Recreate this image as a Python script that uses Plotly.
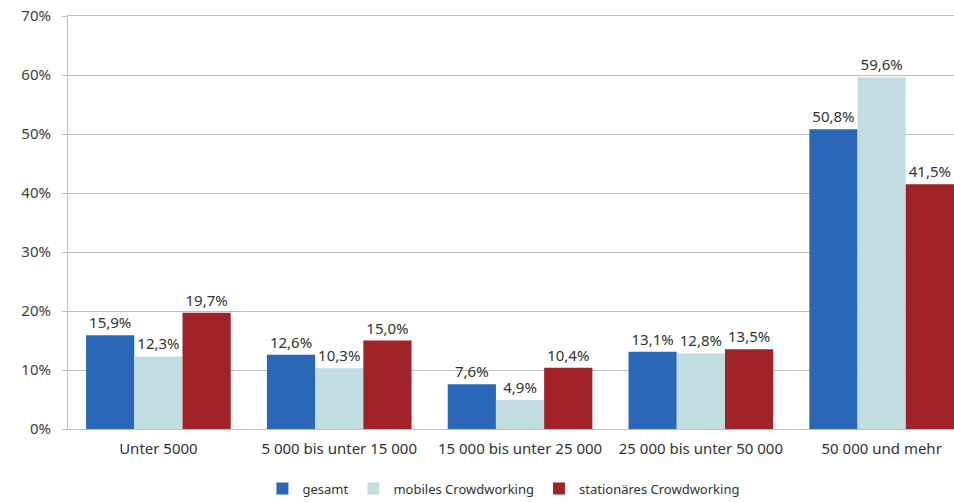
import plotly.graph_objects as go

categories = ["Unter 5000", "5 000 bis unter 15 000", "15 000 bis unter 25 000",
              "25 000 bis unter 50 000", "50 000 und mehr"]
gesamt = [15.9, 12.6, 7.6, 13.1, 50.8]
mobiles = [12.3, 10.3, 4.9, 12.8, 59.6]
stationaeres = [19.7, 15.0, 10.4, 13.5, 41.5]
series_names = ["gesamt", "mobiles Crowdworking", "stationäres Crowdworking"]
colors = ["#2A67B8", "#C3DEE2", "#A12328"]

def fmt(v):
    return f"{v:.1f}".replace(".", ",") + "%"

fig = go.Figure()
for name, vals, col in zip(series_names, [gesamt, mobiles, stationaeres], colors):
    fig.add_trace(go.Bar(
        x=categories, y=vals, name=name, marker_color=col, marker_line_width=0,
        text=[fmt(v) for v in vals], textposition="outside",
        textfont=dict(size=15, color="#333333"), cliponaxis=False,
    ))

fig.update_layout(
    width=954, height=502,
    margin=dict(l=68, r=0, t=16, b=73, autoexpand=False),
    paper_bgcolor="white", plot_bgcolor="white",
    barmode="group", bargap=0.2, bargroupgap=0,
    font=dict(family="Noto Sans, Liberation Sans, sans-serif", size=13, color="#404040"),
    showlegend=True,
    legend=dict(orientation="h", x=0.492, xanchor="center", y=-0.108, yanchor="top",
                font=dict(size=13, color="#333333"), itemwidth=30,
                traceorder="normal"),
    xaxis=dict(range=[-0.5, 4.4], showgrid=False, showline=True, linecolor="#BFBFBF",
               linewidth=1, mirror=True, ticks="", automargin=False, ticklabelstandoff=6,
               tickfont=dict(size=15, color="#333333")),
    yaxis=dict(range=[0, 70], dtick=10, ticksuffix="%", showgrid=True,
               gridcolor="#BFBFBF", gridwidth=1, showline=True, linecolor="#BFBFBF",
               linewidth=1, ticks="outside", ticklen=5, tickcolor="#BFBFBF",
               automargin=False, ticklabelstandoff=8, ticklabeloverflow="allow",
               zeroline=False, tickfont=dict(size=15, color="#404040")),
)

fig.write_html("out.html", config={"displayModeBar": False},
               post_script="document.body.style.margin='0';document.body.style.overflow='hidden';")
